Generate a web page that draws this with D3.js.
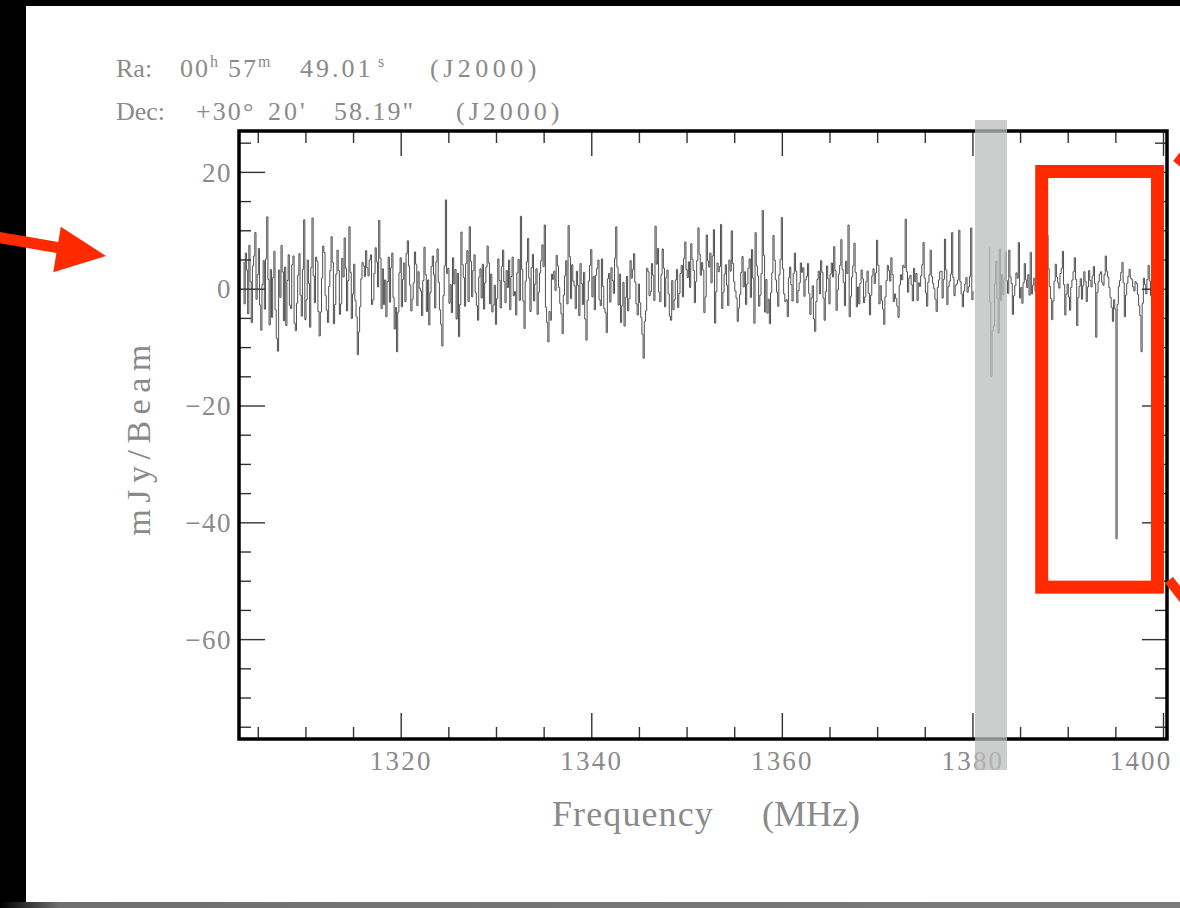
<!DOCTYPE html>
<html>
<head>
<meta charset="utf-8">
<title>Spectrum</title>
<script src="https://cdn.jsdelivr.net/npm/d3@7"></script>
<style>
  html, body { margin: 0; padding: 0; background: #000; }
  svg { display: block; }
</style>
</head>
<body>
<svg id="chart" width="1180" height="908"></svg>
<script>
// Flux density per channel (mJy/beam), 0.125 MHz channels starting at 1303.5 MHz.
// Each row covers 5 MHz; null marks flagged channels.
const fluxMJy = [
  4.5, -2.6, 6.1, 3.2, -4.3, 7.4, 1.2, -5.8, 3.9, 5.6, 9.6, -1.8, 2.4, 6.9, -2.8, -7.1, 0.7, 4.8, -3.5, 5.1,
  12.3, 1.6, -6.2, 3.3, -4.9, 1.9, 6.4, -3.6, -8.5, -10.7, 3.2, -1.5, 7.4, 2.9, -5.5, 3.7, -6.3, 1.4, 5.8, -2.8,
  -3.4, 4.1, 5.6, -5.9, -7.2, -2.5, 2.3, 6.0, -1.1, -4.7, 3.3, 11.8, -5.3, -1.9, 4.9, 0.9, -6.6, 3.6, 12.1, 2.2,
  -2.4, 5.4, 4.7, -3.9, -8.1, -4.0, 1.8, 7.3, 6.2, -1.2, -3.7, -5.8, 0.4, 3.1, 8.9, 4.5, -6.0, -2.7, 2.5, 6.6,
  3.1, -4.4, -2.6, 5.2, 2.0, 8.7, 3.5, -3.8, 1.4, 10.6, 2.8, -5.1, -0.9, 4.2, -2.0, -4.8, -11.3, -7.4, -3.1, 1.7,
  4.5, 3.9, 2.1, 6.5, 3.6, 2.2, 4.9, 5.8, -2.7, -1.9, 2.6, 7.0, 4.6, 0.3, 11.7, 5.2, -3.4, 3.4, -2.7, 1.5,
  -4.8, 1.2, 5.4, -2.3, 3.6, 6.1, -1.5, -6.9, -3.2, -10.8, -4.0, 2.7, 5.3, -3.1, 1.6, 4.4, -2.2, 6.0, 8.2, 3.9,
  0.6, -3.8, -1.8, 1.0, 6.3, 4.2, -2.9, 2.9, 0.1, -0.4, -4.6, 1.4, 7.1, 2.4, -3.9, 1.5, -6.2, -0.7, 3.8, 5.6,
  2.4, -3.3, 4.6, 6.8, 1.1, -3.6, -6.1, -9.8, -1.2, 3.9, 15.2, 2.6, 3.5, -2.5, 0.7, -4.1, 5.3, 0.8, 3.3, -5.2,
  2.6, -8.2, -2.7, 9.7, 4.1, 1.9, -3.0, 4.3, 6.5, -2.2, 10.6, 4.7, -1.4, 3.1, 5.8, -0.7, -2.9, -5.4, 2.0, 3.4,
  -1.6, 4.2, -3.5, 1.0, 3.7, 7.3, 4.4, -2.6, 2.5, -4.0, -2.8, 0.6, -6.1, -1.7, 5.1, 1.4, -3.3, 3.8, 6.6, 1.2,
  -2.4, 3.1, 0.2, 4.9, -3.6, 2.1, 5.4, -1.2, -0.5, -4.5, 2.7, 5.0, -2.0, 12.4, 3.3, -2.1, -6.8, 1.3, 4.6, 8.6,
  1.8, -3.9, 3.6, 5.9, -2.1, 0.8, 3.4, -4.4, -0.6, 2.7, 4.8, 7.5, 3.8, 10.9, -3.2, -5.8, -9.1, -3.9, -5.4, 2.5,
  1.6, 3.0, -0.3, 5.7, 3.9, 0.2, -2.5, -4.3, -7.7, -1.1, 2.2, 4.8, -2.6, 10.8, 5.5, -1.7, 4.1, 1.3, 0.5, -3.4,
  3.0, 0.6, -4.6, 4.3, 0.9, -2.7, 2.8, -5.2, -8.8, -2.0, 1.3, 4.0, 6.7, -1.4, 2.1, -3.6, 2.3, 3.5, 4.9, -1.9,
  -2.9, 5.1, 0.4, -3.4, -4.1, -7.5, 1.7, 2.6, -2.3, 3.6, 1.4, -0.8, 5.2, 10.6, 3.7, -2.8, 2.5, -5.8, -2.9, 1.1,
  -6.4, -1.5, 2.1, -3.8, -1.7, 4.8, 1.8, 3.3, 6.0, 1.1, -2.6, -4.5, 0.8, -2.4, -4.9, -7.8, -11.9, -5.6, -3.8, 3.5,
  2.9, -1.2, -0.5, 4.3, 2.3, -2.0, 10.7, 4.2, 6.9, -0.6, -2.2, 2.4, 6.8, 3.5, -3.1, 1.9, 3.2, -0.9, -4.7, -5.4,
  1.4, -3.6, -1.9, 1.5, 3.3, -3.2, -0.8, 2.6, 4.0, -1.4, 5.2, 8.0, 3.3, 1.9, 4.6, 0.2, 7.7, 5.0, 3.1, -2.4,
  1.2, 4.8, 10.4, 5.9, 2.3, 4.5, 3.2, -4.1, -1.4, 9.2, 4.8, 3.7, 6.1, 1.0, 5.6, 10.1, -5.9, -0.5, 4.4, 2.9,
  3.8, 11.0, -3.4, -0.6, 2.5, 4.1, 0.6, -2.9, 4.9, 3.0, 9.9, 4.3, 1.2, -0.4, -1.6, -5.6, -3.3, -1.0, 2.8, 5.5,
  0.3, 2.9, -2.7, 0.8, 3.5, 5.1, -1.5, 6.7, 1.8, -5.9, 9.6, 3.9, 2.2, -3.0, -1.1, 2.6, 13.4, 5.7, -4.0, 1.6,
  -4.2, -1.8, -6.0, -0.7, 2.7, 9.1, 4.9, 1.5, -0.6, -3.0, 2.4, 5.0, 12.2, 3.4, -0.9, -2.2, -1.9, -4.8, 1.9, 3.7,
  0.7, -2.1, 2.6, 6.1, 3.0, -2.4, -0.3, 1.0, 4.4, 2.8, 3.6, -1.3, 1.5, 2.1, 4.3, -0.8, -4.4, -1.6, 0.5, -5.2,
  -7.3, -2.2, 1.6, 3.0, -0.9, 4.8, 2.8, -1.6, -5.4, -0.5, 3.9, 1.7, -2.6, 2.5, 4.4, 2.0, 7.2, 3.1, -3.7, -0.2,
  2.5, 4.0, 8.4, 3.3, 1.1, -2.9, 4.7, 2.6, 10.9, -4.8, -1.3, 2.0, 3.9, 7.8, 2.8, -3.1, 0.3, -2.6, 0.9, 3.2,
  1.7, -2.4, -1.4, 1.2, 3.0, -0.8, -4.5, -1.1, 2.2, 3.4, 0.9, 2.7, 8.3, 4.0, -2.6, 0.5, -2.0, -3.5, -6.1, -1.4,
  1.4, 4.0, 3.1, 1.3, 5.3, 2.4, -2.2, -0.9, -1.7, -3.0, -4.9, 0.6, 2.4, 1.5, 4.0, 3.6, 11.9, 2.9, -0.6, 1.8,
  2.3, 0.7, -2.1, 3.5, 1.2, 2.6, -2.0, 1.0, 0.4, 2.2, 4.1, 7.9, 1.8, -0.7, -3.0, 1.1, 2.4, 6.6, 2.1, 0.9,
  0.0, -1.8, -3.9, 0.2, 1.5, 2.9, 3.0, -1.6, 1.6, 8.5, 3.2, -2.7, 0.4, 1.3, 2.5, 9.6, 1.9, -1.2, 0.6, 0.8,
  1.5, 10.0, 1.2, -0.9, -3.1, -0.4, 0.8, 1.9, -0.6, 0.3, 2.1, 10.4, -1.9, -0.5, null, null, null, null, null, null,
  null, null, null, null, null, null, 7.0, -2.3, -15.0, -7.2, -6.4, 0.8, 4.7, -1.6, -7.6, 6.8, -2.0, 2.4, -1.0, 1.7,
  6.3, 1.4, -0.8, 6.6, 2.0, 0.9, -4.4, -1.2, 0.5, 2.7, 1.8, 7.9, -1.6, 0.2, -2.5, 1.0, 4.3, 1.5, 0.2, 2.4,
  -1.1, 6.2, -0.9, 0.6, 1.8, -0.4, -1.2, 1.3, 3.5, 0.8, 0.6, 2.3, 5.0, 2.2, 1.9, 9.2, 3.4, 0.4, -1.7, -5.3,
  -2.1, 1.3, 4.2, 2.0, 1.0, 0.1, 2.6, 3.5, 6.4, 0.7, -4.5, -0.9, 0.8, -1.4, -3.7, 0.2, 1.5, 2.9, 5.3, 1.6,
  -6.3, -1.5, 0.4, 1.7, -1.8, 0.5, 2.9, 1.2, -2.2, 0.3, 3.1, 1.4, 0.3, 2.2, 3.8, 0.9, -8.3, -0.6, 1.2, 2.5,
  2.9, 1.1, 0.6, 2.4, 5.6, 3.0, 2.0, 0.2, -1.5, -3.2, -5.6, -1.9, -3.5, -42.8, -2.7, 0.4, 1.4, 2.8, 4.5, 1.0,
  -4.8, -1.1, 0.9, 2.1, 3.3, 1.8, 1.6, 0.3, -0.4, 1.2, 0.9, -1.0, -2.9, -4.6, -10.8, -2.5, 1.8, 0.7, -0.9, 1.6,
  4.0, 1.3, -1.2, 0.6, 2.3, -0.5, -3.0, -0.8, 1.1, 2.0, 0.4, -0.7
];
const freqStartMHz = 1303.5;
const channelWidthMHz = 0.125;

const freqDomainMHz = [1303.03, 1400.42];
const fluxDomainMJy = [-77.1, 27.0];

const xMajorTicks = [1320, 1340, 1360, 1380, 1400];
const xMinorTicks = [1305, 1310, 1315, 1325, 1330, 1335, 1345, 1350, 1355, 1365, 1370, 1375, 1385, 1390, 1395];
const yMajorTicks = [20, 0, -20, -40, -60];
const yMinorTicks = [25, 15, 10, 5, -5, -10, -15, -25, -30, -35, -45, -50, -55, -65, -70, -75];

// Shaded (flagged) frequency range and the highlighted absorption window
const flaggedBandMHz = [1380.27, 1383.63];
const highlightMHz = [1387.27, 1399.42];
const highlightMJy = [20.07, -51.1];

// Pointing header pieces: [text, x, superscript, letter-spacing]
const raParts = [["Ra:", 116, false, 0], ["00", 180, false, 2], ["h", 210, true, 0], ["57", 228, false, 2],
                 ["m", 258, true, 0], ["49.01", 300, false, 3], ["s", 378, true, 0], ["(J2000)", 430, false, 4.5]];
const decParts = [["Dec:", 116, false, 0], ["+30", 196, false, 2], ["\u00b0", 243, false, 0], ["20'", 268, false, 3],
                  ["58.19\"", 334, false, 2], ["(J2000)", 456, false, 4]];

const W = 1180, H = 908;
const plot = { x0: 239, x1: 1167, y0: 131, y1: 739 };
const textColor = "#8a8a8a";
const serif = "'Liberation Serif', 'DejaVu Serif', serif";
const red = "#ff2a00";

const svg = d3.select("#chart");
const defs = svg.append("defs");

// Backdrop: black frame, grey strip along the bottom, white sheet
svg.append("rect").attr("width", W).attr("height", H).attr("fill", "#000");
const grad = defs.append("linearGradient").attr("id", "stripGrad");
grad.append("stop").attr("offset", "0%").attr("stop-color", "#000");
grad.append("stop").attr("offset", "5%").attr("stop-color", "#6f6f6f");
grad.append("stop").attr("offset", "100%").attr("stop-color", "#7b7b7b");
svg.append("rect").attr("x", 0).attr("y", 902).attr("width", W).attr("height", 6).attr("fill", "url(#stripGrad)");
svg.append("rect").attr("x", 26).attr("y", 6).attr("width", W - 26).attr("height", 896).attr("fill", "#fff");

const x = d3.scaleLinear().domain(freqDomainMHz).range([plot.x0, plot.x1]);
const y = d3.scaleLinear().domain(fluxDomainMJy).range([plot.y1, plot.y0]);

// Spectrum as a stepped histogram
defs.append("clipPath").attr("id", "plotClip").append("rect")
  .attr("x", plot.x0).attr("y", plot.y0).attr("width", plot.x1 - plot.x0).attr("height", plot.y1 - plot.y0);
const channels = fluxMJy.map((v, i) => ({ f: freqStartMHz + i * channelWidthMHz, v }));
const spectrumLine = d3.line()
  .defined(d => d.v !== null)
  .x(d => x(d.f))
  .y(d => y(d.v))
  .curve(d3.curveStep);
svg.append("path").datum(channels)
  .attr("d", spectrumLine)
  .attr("fill", "none")
  .attr("stroke", "#505050")
  .attr("stroke-width", 1)
  .attr("clip-path", "url(#plotClip)");

// Ticks on all four sides, pointing inward
const fmt = d => (d < 0 ? "\u2212" + Math.abs(d) : String(d));
function tickSet(axisGen, tx, ty, values, len, labelled, pad) {
  const g = svg.append("g")
    .attr("transform", `translate(${tx},${ty})`)
    .call(axisGen.tickValues(values).tickSizeInner(len).tickSizeOuter(0).tickPadding(pad || 0)
      .tickFormat(labelled ? fmt : () => ""));
  g.select(".domain").remove();
  g.attr("font-family", serif).attr("font-size", 27);
  g.selectAll(".tick line").attr("stroke", "#333").attr("stroke-width", 1.4);
  g.selectAll(".tick text").attr("fill", textColor);
  return g;
}
tickSet(d3.axisBottom(x), 0, plot.y1, xMinorTicks, -12, false);
tickSet(d3.axisTop(x), 0, plot.y0, xMinorTicks, -12, false);
tickSet(d3.axisTop(x), 0, plot.y0, xMajorTicks, -25, false);
tickSet(d3.axisLeft(y), plot.x0, 0, yMinorTicks, -12, false);
tickSet(d3.axisRight(y), plot.x1, 0, yMinorTicks, -12, false);
tickSet(d3.axisRight(y), plot.x1, 0, yMajorTicks, -25, false);

const xAxisG = tickSet(d3.axisBottom(x), 0, plot.y1, xMajorTicks, -26, true);
xAxisG.selectAll(".tick text")
  .attr("y", 31).attr("dy", 0)
  .attr("letter-spacing", 2.2)
  .filter(d => d === xMajorTicks[xMajorTicks.length - 1])
  .attr("text-anchor", "end").attr("x", 9);

const yAxisG = tickSet(d3.axisLeft(y), plot.x0, 0, yMajorTicks, -26, true, 7);
yAxisG.selectAll(".tick text").attr("dy", "0.34em").attr("letter-spacing", 1.5);

// Plot frame
svg.append("rect")
  .attr("x", plot.x0).attr("y", plot.y0)
  .attr("width", plot.x1 - plot.x0).attr("height", plot.y1 - plot.y0)
  .attr("fill", "none").attr("stroke", "#000").attr("stroke-width", 3.5);

// Axis titles
svg.append("text")
  .attr("x", 552).attr("y", 826)
  .attr("font-family", serif).attr("font-size", 36).attr("letter-spacing", 1.1)
  .attr("fill", textColor).text("Frequency");
svg.append("text")
  .attr("x", 762).attr("y", 826)
  .attr("font-family", serif).attr("font-size", 36)
  .attr("fill", textColor).text("(MHz)");
svg.append("text")
  .attr("transform", "translate(150,437) rotate(-90)")
  .attr("text-anchor", "middle")
  .attr("font-family", serif).attr("font-size", 34).attr("letter-spacing", 6.5)
  .attr("fill", textColor).text("mJy/Beam");

// Pointing header
function header(parts, baseline) {
  const g = svg.append("g").attr("font-family", serif).attr("fill", textColor);
  parts.forEach(([t, px, sup, ls]) => {
    g.append("text")
      .attr("x", px).attr("y", sup ? baseline - 10 : baseline)
      .attr("font-size", sup ? 16 : 26)
      .attr("letter-spacing", ls)
      .text(t);
  });
}
header(raParts, 77);
header(decParts, 120);

// Flagged band overlay
svg.append("rect")
  .attr("x", x(flaggedBandMHz[0]))
  .attr("width", x(flaggedBandMHz[1]) - x(flaggedBandMHz[0]))
  .attr("y", plot.y0 - 11)
  .attr("height", plot.y1 - plot.y0 + 42)
  .attr("fill", "#babdbb").attr("opacity", 0.75);

// Highlight box around the absorption feature
svg.append("rect")
  .attr("x", x(highlightMHz[0])).attr("y", y(highlightMJy[0]))
  .attr("width", x(highlightMHz[1]) - x(highlightMHz[0]))
  .attr("height", y(highlightMJy[1]) - y(highlightMJy[0]))
  .attr("fill", "none").attr("stroke", red).attr("stroke-width", 13);

// Pointer arrows
svg.append("line").attr("x1", -4).attr("y1", 237).attr("x2", 66).attr("y2", 249)
  .attr("stroke", red).attr("stroke-width", 11);
svg.append("path").attr("d", "M60.8,226.8 L106,256 L53.2,272.2 Z").attr("fill", red);
svg.append("line").attr("x1", 1177).attr("y1", 164).attr("x2", 1205).attr("y2", 129)
  .attr("stroke", red).attr("stroke-width", 10);
svg.append("line").attr("x1", 1169).attr("y1", 580).attr("x2", 1200).attr("y2", 620)
  .attr("stroke", red).attr("stroke-width", 10);
</script>
</body>
</html>
